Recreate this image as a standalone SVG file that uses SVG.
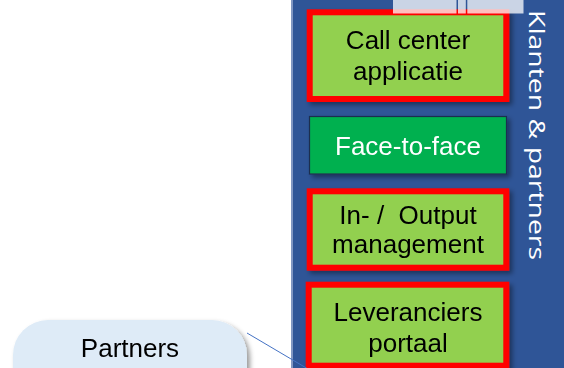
<svg xmlns="http://www.w3.org/2000/svg" width="564" height="368" viewBox="0 0 564 368">
<style>
  .lbl { font-family: "Liberation Sans", Arial, sans-serif; font-size: 26px; fill: #000; text-anchor: middle; white-space: pre; }
  .wht { fill: #fff; }
  .red { fill: #92D050; stroke: #FF0000; stroke-width: 6; }
  .veil { fill: #fff; fill-opacity: 0.75; }
</style>
<defs>
  <filter id="sh" x="-10%" y="-10%" width="130%" height="130%">
    <feDropShadow dx="3" dy="3" stdDeviation="2.5" flood-color="#000" flood-opacity="0.4"/>
  </filter>
</defs>
<rect width="564" height="368" fill="#fff"/>
<g id="panel">
  <rect x="291" y="0" width="273" height="368" fill="#2F5597"/>
  <line x1="292" y1="0" x2="292" y2="368" stroke="#8096C2" stroke-width="2"/>
  <text transform="translate(529,10) rotate(90)" font-family="'Open Sans', 'DejaVu Sans', sans-serif" font-size="22" fill="#fff" textLength="250" lengthAdjust="spacingAndGlyphs">Klanten &amp; partners</text>
</g>
<g id="callcenter" filter="url(#sh)">
  <rect class="red" x="309.7" y="12.3" width="196.6" height="86.7"/>
  <text class="lbl" x="408" y="49">Call center</text>
  <text class="lbl" x="408" y="80">applicatie</text>
</g>
<g id="facetoface" filter="url(#sh)">
  <rect x="309.5" y="116.5" width="197" height="57.5" fill="#00B050" stroke="#1F2F4F" stroke-width="1.2"/>
  <text class="lbl wht" x="408" y="155">Face-to-face</text>
</g>
<g id="inoutput" filter="url(#sh)">
  <rect class="red" x="309.7" y="191.3" width="196.6" height="76.4"/>
  <text class="lbl" x="408" y="224">In- /  Output</text>
  <text class="lbl" x="408" y="253">management</text>
</g>
<g id="leveranciers" filter="url(#sh)">
  <rect class="red" x="308.7" y="284.7" width="197.6" height="81"/>
  <text class="lbl" x="408" y="321">Leveranciers</text>
  <text class="lbl" x="408" y="352">portaal</text>
</g>
<g id="topveil">
  <rect class="veil" x="393" y="0" width="63.5" height="13.5"/>
  <rect class="veil" x="458" y="0" width="7.8" height="13.5"/>
  <rect class="veil" x="467.3" y="0" width="56.2" height="13.5"/>
</g>
<g id="partners" filter="url(#sh)">
  <rect x="13" y="320" width="234" height="90" rx="35" ry="35" fill="#DEEBF7"/>
  <text class="lbl" x="130" y="357">Partners</text>
</g>
<g id="connectors">
  <line x1="247" y1="333" x2="308" y2="369" stroke="#4472C4" stroke-width="1"/>
</g>
</svg>
